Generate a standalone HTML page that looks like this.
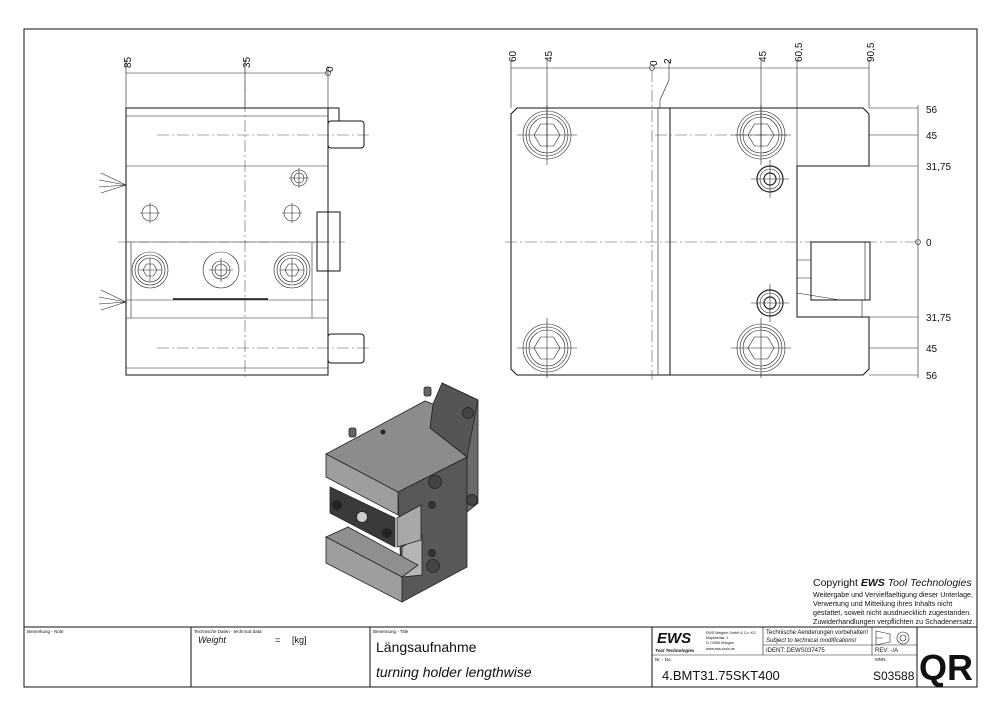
<!DOCTYPE html>
<html><head><meta charset="utf-8"><style>
html,body{margin:0;padding:0;background:#fff;}
svg{display:block;font-family:"Liberation Sans",sans-serif;}
.l{stroke:#111;stroke-width:1;fill:none}
.t{stroke:#222;stroke-width:0.6;fill:none}
.c{stroke:#555;stroke-width:0.6;fill:none;stroke-dasharray:12 3 2 3}
.d{font-size:10px;fill:#111}
</style></head><body>
<svg width="1000" height="715" viewBox="0 0 1000 715">
<defs>
<g id="b1" class="t"><circle r="24"/><circle r="21"/><circle r="18"/><polygon points="13,0 6.5,11 -6.5,11 -13,0 -6.5,-11 6.5,-11"/><path d="M-30,0H30M0,-30V30"/></g>
<g id="s1" class="t"><circle r="13" stroke-width="1.2"/><circle r="10"/><circle r="6" stroke-width="1.2"/><path d="M-19,0H19M0,-19V19"/></g>
</defs>
<rect x="24" y="29" width="953" height="658" class="l"/>
<!-- LEFT VIEW -->
<g>
<line x1="126" y1="73" x2="328" y2="73" class="t"/>
<line x1="126" y1="60" x2="126" y2="108" class="t"/>
<line x1="245" y1="60" x2="245" y2="108" class="t"/>
<line x1="328" y1="66" x2="328" y2="108" class="t"/>
<circle cx="328" cy="73" r="2.5" class="t"/>
<text class="d" transform="translate(131,68) rotate(-90)">85</text>
<text class="d" transform="translate(250,68) rotate(-90)">35</text>
<text class="d" transform="translate(333,72) rotate(-90)">0</text>
<rect x="126" y="108" width="202" height="267" class="l"/>
<line x1="126" y1="116" x2="328" y2="116" class="t"/>
<line x1="126" y1="166" x2="328" y2="166" class="t"/>
<line x1="126" y1="242" x2="328" y2="242" class="t"/>
<line x1="126" y1="300" x2="328" y2="300" class="t"/>
<line x1="126" y1="318" x2="328" y2="318" class="t"/>
<line x1="126" y1="368" x2="328" y2="368" class="t"/>
<line x1="131" y1="242" x2="131" y2="318" class="t"/>
<line x1="312" y1="242" x2="312" y2="318" class="t"/>
<line x1="173" y1="299" x2="268" y2="299" stroke="#111" stroke-width="1.5"/>
<line x1="245" y1="60" x2="245" y2="380" class="c"/>
<line x1="157" y1="135" x2="370" y2="135" class="c"/>
<line x1="157" y1="348" x2="370" y2="348" class="c"/>
<line x1="118" y1="242" x2="345" y2="242" class="c"/>
<path d="M328,108 H339 V121" class="l" stroke-width="1.5"/>
<rect x="328" y="121" width="36" height="27" rx="3" class="l"/>
<rect x="328" y="334" width="36" height="29" rx="3" class="l"/>
<rect x="317" y="212" width="23" height="59" class="l" stroke-width="1.6"/>
<g class="t">
<circle cx="150" cy="270" r="18"/><circle cx="150" cy="270" r="15"/><circle cx="150" cy="270" r="12"/>
<polygon points="157,270 153.5,276 146.5,276 143,270 146.5,264 153.5,264"/>
<circle cx="221" cy="270" r="18"/><circle cx="221" cy="270" r="9"/><circle cx="221" cy="270" r="6"/>
<circle cx="292" cy="270" r="18"/><circle cx="292" cy="270" r="15"/><circle cx="292" cy="270" r="12"/>
<polygon points="299,270 295.5,276 288.5,276 285,270 288.5,264 295.5,264"/>
<circle cx="150" cy="213" r="8"/><circle cx="292" cy="213" r="8"/>
<circle cx="299" cy="178" r="8"/><circle cx="299" cy="178" r="5"/>
<path d="M126,185 l-25,-12 M126,185 l-27,-5 M126,185 l-27,2 M126,185 l-25,8 M126,302 l-25,-12 M126,302 l-27,-5 M126,302 l-27,2 M126,302 l-25,8"/>
<path d="M138,270h24M150,258v24M209,270h24M221,258v24M280,270h24M292,258v24M140,213h20M150,203v20M282,213h20M292,203v20M289,178h20M299,168v20"/>
</g>
</g>
<!-- RIGHT VIEW -->
<g>
<line x1="511" y1="68" x2="869" y2="68" class="t"/>
<g class="t"><path d="M511,60V108M547,60V148M869,60V108M761,60V148M797,60V166M669,60V80L660,100V108"/></g>
<circle cx="652" cy="68" r="2.5" class="t"/>
<text class="d" transform="translate(516,62) rotate(-90)">60</text>
<text class="d" transform="translate(552,62) rotate(-90)">45</text>
<text class="d" transform="translate(657,66) rotate(-90)">0</text>
<text class="d" transform="translate(671,64) rotate(-90)">2</text>
<text class="d" transform="translate(766,62) rotate(-90)">45</text>
<text class="d" transform="translate(802,62) rotate(-90)">60,5</text>
<text class="d" transform="translate(874,62) rotate(-90)">90,5</text>
<path d="M517,108 H863 L869,114 V166 H797 V317 H869 V369 L863,375 H517 L511,369 V114 Z" class="l"/>
<line x1="658" y1="108" x2="658" y2="375" class="t"/>
<line x1="670" y1="108" x2="670" y2="375" class="l"/>
<line x1="652" y1="70" x2="652" y2="380" class="c"/>
<line x1="505" y1="242" x2="918" y2="242" class="c"/>
<line x1="655" y1="135" x2="790" y2="135" class="c"/>
<rect x="811" y="242" width="59" height="58" class="l"/>
<path d="M797,293 L840,300 L865,300 M797,260h14M797,278h14M862,300V317M865,242V300" class="t"/>
<g class="t">
<path d="M869,108H918M869,135H918M869,166H918M869,317H918M869,348H918M869,375H918M918,105V378"/>
<circle cx="918" cy="242" r="2.5"/>
</g>
<text class="d" x="926" y="113">56</text>
<text class="d" x="926" y="139">45</text>
<text class="d" x="926" y="170">31,75</text>
<text class="d" x="926" y="246">0</text>
<text class="d" x="926" y="321">31,75</text>
<text class="d" x="926" y="352">45</text>
<text class="d" x="926" y="379">56</text>
<use href="#b1" x="547" y="135"/><use href="#b1" x="761" y="135"/><use href="#b1" x="547" y="348"/><use href="#b1" x="761" y="348"/>
<use href="#s1" x="770" y="179"/><use href="#s1" x="770" y="303"/>
</g>
<!-- 3D VIEW -->
<g stroke="#222" stroke-width="0.8">
<rect x="349" y="428" width="7" height="9" rx="2" fill="#666"/>
<rect x="424" y="387" width="7" height="9" rx="2" fill="#666"/>
<polygon points="398,492 467,457 467,567 402,602" fill="#585858"/>
<polygon points="430,428 442,383 478,400 478,503 467,512 467,457" fill="#6a6a6a"/>
<polygon points="433,404 442,383 478,400 467,457 430,428" fill="#555"/>
<polygon points="326,454 425,401 433,404 430,428 467,457 398,492" fill="#8c8c8c"/>
<polygon points="326,454 398,492 398,515 326,477" fill="#9e9e9e"/>
<polygon points="402,547 422,535 422,575 402,577" fill="#b5b5b5"/>
<polygon points="330,487 395,518 395,547 330,513" fill="#3a3a3a"/>
<polygon points="397,518 421,505 421,540 397,547" fill="#a8a8a8"/>
<polygon points="326,537 348,527 418,565 402,577" fill="#8f8f8f"/>
<polygon points="326,537 402,577 402,602 326,563" fill="#9e9e9e"/>
<circle cx="362" cy="517" r="5.5" fill="#ccc"/>
<circle cx="337" cy="505" r="4.5" fill="#222"/><circle cx="387" cy="533" r="4.5" fill="#222"/>
<circle cx="435" cy="482" r="6.5" fill="#444"/><circle cx="433" cy="566" r="6.5" fill="#444"/>
<circle cx="468" cy="413" r="5.5" fill="#444"/><circle cx="472" cy="500" r="5.5" fill="#444"/>
<circle cx="432" cy="505" r="3.5" fill="#333"/><circle cx="432" cy="553" r="3.5" fill="#333"/>
<circle cx="383" cy="432" r="2" fill="#222"/>
</g>
<!-- COPYRIGHT -->
<text x="813" y="586" font-size="10.5" fill="#111">Copyright <tspan font-weight="bold" font-style="italic">EWS</tspan> <tspan font-style="italic">Tool Technologies</tspan></text>
<g font-size="7.1" fill="#111">
<text x="813" y="597">Weitergabe und Vervielfaeltigung dieser Unterlage,</text>
<text x="813" y="606">Verwertung und Mitteilung ihres Inhalts nicht</text>
<text x="813" y="615">gestattet, soweit nicht ausdruecklich zugestanden.</text>
<text x="813" y="624">Zuwiderhandlungen verpflichten zu Schadenersatz.</text>
</g>
<!-- TITLE BLOCK -->
<g class="l">
<line x1="24" y1="627" x2="977" y2="627"/>
<line x1="191" y1="627" x2="191" y2="687"/>
<line x1="370" y1="627" x2="370" y2="687"/>
<line x1="652" y1="627" x2="652" y2="687"/>
<line x1="917" y1="627" x2="917" y2="687"/>
</g>
<g class="t">
<line x1="763" y1="627" x2="763" y2="655"/>
<line x1="872" y1="627" x2="872" y2="655"/>
<line x1="763" y1="645" x2="917" y2="645"/>
<line x1="652" y1="655" x2="917" y2="655"/>
<path d="M876,631 L890,634 V642 L876,645 Z M876,638H883"/>
<circle cx="903" cy="638" r="6"/><circle cx="903" cy="638" r="3"/>
</g>
<g fill="#111">
<text x="27" y="633" font-size="4.5">Bemerkung - Note</text>
<text x="194" y="633" font-size="4.5">Technische Daten - technical data</text>
<text x="198" y="643" font-size="9" font-style="italic">Weight</text>
<text x="275" y="643" font-size="9">=</text><text x="292" y="643" font-size="9">[kg]</text>
<text x="373" y="633" font-size="4.5">Benennung - Title</text>
<text x="376" y="652" font-size="14">Längsaufnahme</text>
<text x="376" y="677" font-size="14" font-style="italic">turning holder lengthwise</text>
<text x="657" y="643" font-size="15" font-weight="bold" font-style="italic">EWS</text>
<text x="655" y="652" font-size="4.5" font-weight="bold" font-style="italic">Tool Technologies</text>
<text x="706" y="634" font-size="3.6">EWS Weigele GmbH &amp; Co. KG</text>
<text x="706" y="639" font-size="3.6">Maybachstr. 1</text>
<text x="706" y="644" font-size="3.6">D-73066 Uhingen</text>
<text x="706" y="650" font-size="3.6">www.ews-tools.de</text>
<text x="766" y="634" font-size="6">Technische Aenderungen vorbehalten!</text>
<text x="766" y="642" font-size="6" font-style="italic">Subject to technical modifications!</text>
<text x="766" y="652" font-size="6">IDENT:  DEWS037475</text>
<text x="875" y="652" font-size="6">REV:  -/A</text>
<text x="655" y="661" font-size="4.5">Nr. - No.</text>
<text x="875" y="661" font-size="4.5">MNR.</text>
<text x="662" y="680" font-size="13">4.BMT31.75SKT400</text>
<text x="873" y="680" font-size="12">S03588</text>
<text x="919" y="680" font-size="36" font-weight="bold">QR</text>
</g>
</svg>
</body></html>
